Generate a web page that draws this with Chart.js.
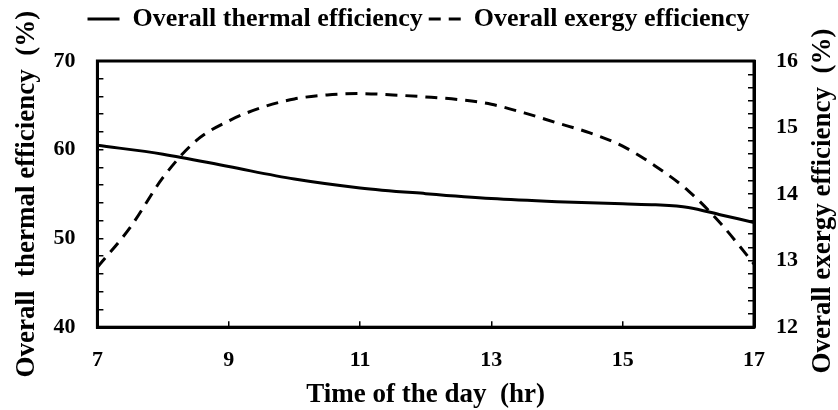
<!DOCTYPE html>
<html>
<head>
<meta charset="utf-8">
<script src="https://cdn.jsdelivr.net/npm/chart.js@4/dist/chart.umd.min.js"></script>
<style>
  html, body { margin: 0; padding: 0; background: #fff; }
  #wrap { width: 838px; height: 410px; }
</style>
</head>
<body>
<div id="wrap"><canvas id="chart" width="838" height="410"></canvas></div>
<script>
// data
const thermalHours = [7, 8, 9, 10, 11, 12, 13, 14, 15, 15.5, 16, 16.5, 17];
const thermalEff = [60.5, 59.5, 58.1, 56.7, 55.7, 55.05, 54.5, 54.15, 53.9, 53.8, 53.5, 52.65, 51.8];

const exergyHours = [7, 7.5, 8, 8.5, 9, 9.5, 10, 10.5, 11, 11.5, 12, 12.5, 13, 13.5, 14, 14.5, 15, 15.5, 16, 16.5, 17];
const exergyEff = [12.9, 13.5, 14.25, 14.8, 15.1, 15.3, 15.43, 15.49, 15.51, 15.49, 15.46, 15.42, 15.35, 15.22, 15.07, 14.92, 14.72, 14.42, 14.05, 13.55, 12.95];

const seriesNames = ['Overall thermal efficiency', 'Overall exergy efficiency'];
const xTitle = 'Time of the day  (hr)';
const yTitle = 'Overall  thermal efficiency  (%)';
const y1Title = 'Overall exergy efficiency  (%)';

const FONT = "'Liberation Serif', 'Times New Roman', serif";
Chart.defaults.font.family = FONT;
Chart.defaults.font.weight = 'bold';
Chart.defaults.color = '#000';

// box around the plot area
const frame = {
  id: 'frame',
  afterDraw(c) {
    const a = c.chartArea, ctx = c.ctx;
    ctx.save();
    ctx.strokeStyle = '#000';
    ctx.lineWidth = 3;
    ctx.strokeRect(a.left, a.top, a.right - a.left, a.bottom - a.top);
    ctx.restore();
  }
};

// right axis title reads bottom-to-top like the left one
const rightTitle = {
  id: 'rightTitle',
  afterDraw(c) {
    const ctx = c.ctx;
    ctx.save();
    ctx.translate(c.width - 15, 201);
    ctx.rotate(-Math.PI / 2);
    ctx.font = 'bold 27px ' + FONT;
    ctx.fillStyle = '#000';
    ctx.textAlign = 'center';
    ctx.textBaseline = 'middle';
    ctx.fillText(y1Title, 0, 0);
    ctx.restore();
  }
};

// extra room under the legend
const legendGap = {
  id: 'legendGap',
  beforeInit(c) {
    const fit = c.legend.fit;
    c.legend.fit = function () {
      fit.bind(c.legend)();
      this.height += 19;
    };
  }
};

const isWhole = (v, step) => Math.abs(v / step - Math.round(v / step)) < 1e-6;

const axisGrid = { drawOnChartArea: false, tickLength: -6, color: '#000', lineWidth: 1.5 };
const axisBorder = { display: true, color: '#000', width: 3 };

new Chart(document.getElementById('chart'), {
  type: 'line',
  data: {
    datasets: [
      {
        label: seriesNames[0],
        data: thermalHours.map((h, i) => ({ x: h, y: thermalEff[i] })),
        yAxisID: 'y',
        borderColor: '#000',
        backgroundColor: '#000',
        borderWidth: 3,
        pointRadius: 0,
        cubicInterpolationMode: 'monotone'
      },
      {
        label: seriesNames[1],
        data: exergyHours.map((h, i) => ({ x: h, y: exergyEff[i] })),
        yAxisID: 'y1',
        borderColor: '#000',
        backgroundColor: '#000',
        borderWidth: 3,
        borderDash: [12, 8],
        pointRadius: 0,
        cubicInterpolationMode: 'monotone'
      }
    ]
  },
  options: {
    responsive: false,
    animation: false,
    layout: { padding: { left: 11, right: 12, top: 0, bottom: -1 } },
    plugins: {
      tooltip: { enabled: false },
      legend: {
        position: 'top',
        labels: {
          usePointStyle: true,
          pointStyleWidth: 32,
          padding: 6,
          font: { size: 26, weight: 'bold' },
          generateLabels(c) {
            const items = Chart.defaults.plugins.legend.labels.generateLabels(c);
            items.forEach((it, i) => {
              it.pointStyle = 'line';
              it.lineWidth = 3;
              it.lineDash = c.data.datasets[i].borderDash || [];
            });
            return items;
          }
        }
      }
    },
    scales: {
      x: {
        type: 'linear',
        min: 7, max: 17,
        ticks: { stepSize: 2, padding: 26, autoSkip: false, maxRotation: 0, font: { size: 22 } },
        grid: axisGrid,
        border: axisBorder,
        title: { display: true, text: xTitle, font: { size: 27 }, padding: { top: -21, bottom: 0 } }
      },
      y: {
        position: 'left',
        min: 40, max: 70,
        ticks: {
          stepSize: 2, padding: 28, autoSkip: false, font: { size: 22 },
          callback: v => isWhole(v, 10) ? v : ''
        },
        grid: axisGrid,
        border: axisBorder,
        title: { display: true, text: yTitle, font: { size: 27 }, padding: { top: 0, bottom: -18 } }
      },
      y1: {
        position: 'right',
        min: 12, max: 16,
        ticks: {
          stepSize: 0.2, padding: 28, autoSkip: false, font: { size: 22 },
          callback: v => isWhole(v, 1) ? Math.round(v) : ''
        },
        grid: axisGrid,
        border: axisBorder
      }
    }
  },
  plugins: [frame, legendGap, rightTitle]
});
</script>
</body>
</html>
